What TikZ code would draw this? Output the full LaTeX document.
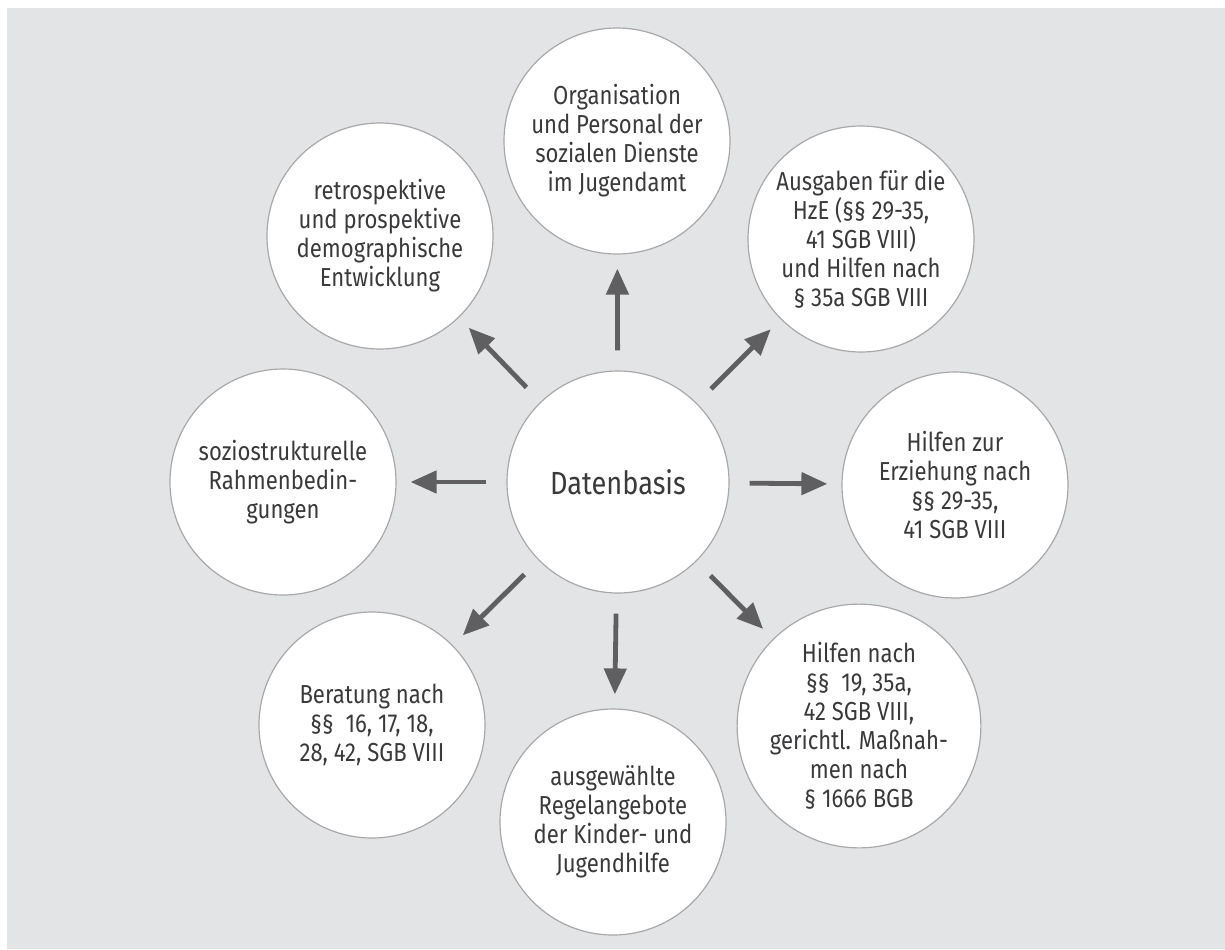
\documentclass[tikz,border=0pt]{standalone}
\usepackage{fontspec}
\setmainfont{Fira Sans}[FakeStretch=0.85]
\usetikzlibrary{arrows.meta}

\definecolor{bggray}{RGB}{227,228,230}
\definecolor{rimgray}{RGB}{168,168,170}
\definecolor{textgray}{RGB}{58,58,60}
\definecolor{arrowgray}{RGB}{95,95,97}

\tikzset{
  bubble/.style={circle, draw=rimgray, line width=0.6pt, fill=white,
    minimum size=113pt, inner sep=0pt, align=center, text=textgray,
    font=\fontsize{13pt}{14.5pt}\selectfont},
  hub/.style={bubble, minimum size=111pt, font=\fontsize{16pt}{18pt}\selectfont},
  arrowline/.style={arrowgray, line width=2.4pt,
    -{Triangle[length=13pt,width=11pt]}, shorten <=10pt, shorten >=7pt}
}

\begin{document}
\begin{tikzpicture}[x=0.5pt,y=0.5pt]
\useasboundingbox (-618,482) rectangle (607,-467);
\fill[bggray] (-611,474) rectangle (607,-467);

% center
\node[hub] (datenbasis) at (0,0) {Datenbasis};

% outer ring
\node[bubble] (organisation) at (-1,341) {Organisation\\und Personal der\\sozialen Dienste\\im Jugendamt};
\node[bubble] (ausgaben) at (243,243) {Ausgaben für die\\HzE (§§ 29-35,\\41 SGB VIII)\\und Hilfen nach\\§ 35a SGB VIII};
\node[bubble] (erziehung) at (337,-3) {Hilfen zur\\Erziehung nach\\§§ 29-35,\\41 SGB VIII};
\node[bubble] (hilfen) at (241,-244) {Hilfen nach\\§§\ \ 19, 35a,\\42 SGB VIII,\\gerichtl. Maßnah-\\men nach\\§ 1666 BGB};
\node[bubble] (regel) at (-5,-340) {ausgewählte\\Regelangebote\\der Kinder- und\\Jugendhilfe};
\node[bubble] (beratung) at (-246,-243) {Beratung nach\\§§\ \ 16, 17, 18,\\28, 42, SGB VIII};
\node[bubble] (sozio) at (-335,0) {soziostrukturelle\\Rahmenbedin-\\gungen};
\node[bubble] (demografie) at (-238,246) {retrospektive\\und prospektive\\demographische\\Entwicklung};

% arrows
\draw[arrowline] (datenbasis) -- (organisation);
\draw[arrowline] (datenbasis) -- (ausgaben);
\draw[arrowline] (datenbasis) -- (erziehung);
\draw[arrowline] (datenbasis) -- (hilfen);
\draw[arrowline] (datenbasis) -- (regel);
\draw[arrowline] (datenbasis) -- (beratung);
\draw[arrowline] (datenbasis) -- (sozio);
\draw[arrowline] (datenbasis) -- (demografie);
\end{tikzpicture}
\end{document}
